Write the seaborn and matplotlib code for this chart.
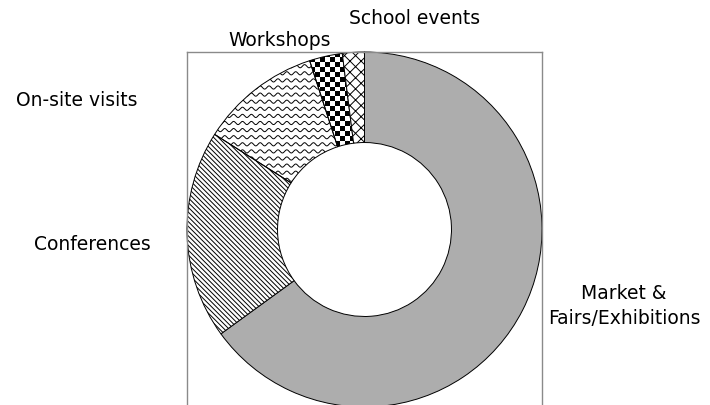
import numpy as np
import matplotlib
matplotlib.use("Agg")
import matplotlib.pyplot as plt
import seaborn as sns

# share of activities (percent), clockwise from 12 o'clock
categories = ["Market &\nFairs/Exhibitions", "Conferences", "On-site visits", "Workshops", "School events"]
shares = [65, 19, 11, 3, 2]

sns.set_style("white")
plt.rcParams['font.family'] = ['DejaVu Sans']
plt.rcParams['hatch.linewidth'] = 0.7

fig = plt.figure(figsize=(7.1, 4.05), dpi=100)
W, H = 710, 405
ax = fig.add_axes([187 / W, (H - 407) / H, 355 / W, 355 / H])

wedges, _ = ax.pie(shares, startangle=90, counterclock=False, radius=1,
                   wedgeprops=dict(width=0.51, edgecolor="black", linewidth=0.7))

# fills / textures
wedges[0].set_facecolor("#adadad")
wedges[1].set_facecolor("white")
wedges[1].set_hatch("\\" * 7)
wedges[2].set_facecolor("none")
wedges[3].set_facecolor("none")
wedges[4].set_facecolor("white")
wedges[4].set_hatch("xxx")

# wavy texture for on-site visits
xs = np.linspace(-1, 1, 1200)
for row in np.arange(-1, 1.05, 0.04):
    line, = ax.plot(xs, row + 0.009 * np.sin(2 * np.pi * xs / 0.05),
                    color="black", lw=0.7, zorder=0.5)
    line.set_clip_path(wedges[2])

# checkerboard texture for workshops
n = 72
ii, jj = np.indices((n, n))
checker = ((ii + jj) % 2).astype(float)
im = ax.imshow(checker, cmap="gray", extent=(-1, 1, -1, 1), interpolation="nearest",
               zorder=0.5, aspect="auto")
im.set_clip_path(wedges[3])

ax.set_xlim(-1, 1)
ax.set_ylim(-1, 1)
ax.set_aspect("equal")
ax.set_xticks([])
ax.set_yticks([])
ax.set_frame_on(True)
for s in ax.spines.values():
    s.set_visible(True)
    s.set_color("#8a8a8a")
    s.set_linewidth(1.0)

# label placement (pixel positions of label centres)
label_pos = [(624, 306), (92, 245), (77, 101), (280, 40), (415, 19)]
for text, (px, py) in zip(categories, label_pos):
    fig.text(px / W, 1 - py / H, text, ha="center", va="center",
             fontsize=13.5, color="black", linespacing=1.45)

fig.savefig("out.png", dpi=100)
